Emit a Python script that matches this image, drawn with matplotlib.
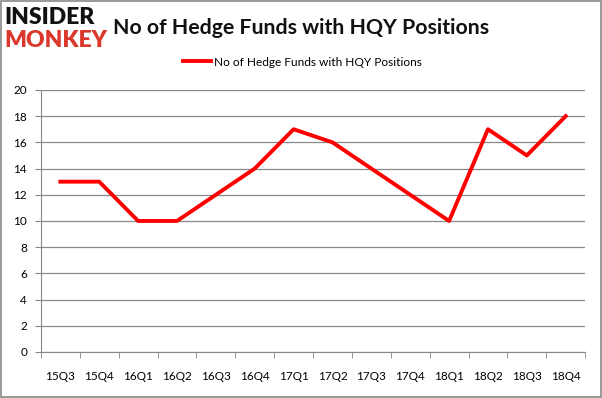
import matplotlib
matplotlib.use("Agg")
import matplotlib.pyplot as plt
from matplotlib.patches import Rectangle
import numpy as np

categories = ["15Q3", "15Q4", "16Q1", "16Q2", "16Q3", "16Q4", "17Q1", "17Q2",
              "17Q3", "17Q4", "18Q1", "18Q2", "18Q3", "18Q4"]
values = [13, 13, 10, 10, 12, 14, 17, 16, 14, 12, 10, 17, 15, 18]
yticks = [0, 2, 4, 6, 8, 10, 12, 14, 16, 18, 20]
series_name = "No of Hedge Funds with HQY Positions"
title = "No of Hedge Funds with HQY Positions"

plt.rcParams["font.family"] = ["Lato", "DejaVu Sans"]

fig = plt.figure(figsize=(6.02, 3.98), dpi=100)
fig.patches.append(Rectangle((0.002, 0.002), 0.996, 0.996, transform=fig.transFigure,
                             fill=False, edgecolor="#888888", linewidth=1.2))
ax = fig.add_axes([0.068, 0.1156, 0.904, 0.6584])
x = np.arange(len(categories))
ax.plot(x, values, color="#ff0000", linewidth=2.8, label=series_name, solid_joinstyle="round")
ax.set_xlim(-0.5, len(categories) - 0.5)
ax.set_ylim(0, 20)
ax.set_yticks(yticks)
ax.set_yticklabels([str(v) for v in yticks], fontsize=8.5)
ax.set_xticks(x)
ax.set_xticklabels(categories, fontsize=8.5)
ax.set_xticks(np.arange(-0.5, len(categories), 1), minor=True)
ax.tick_params(axis="x", which="major", length=0, pad=14)
ax.tick_params(axis="x", which="minor", length=4, color="#888888")
ax.tick_params(axis="y", length=4, color="#888888", pad=6)
ax.grid(axis="y", color="#888888", linewidth=0.9)
ax.set_axisbelow(True)
for s in ["top", "right"]:
    ax.spines[s].set_visible(False)
for s in ["left", "bottom"]:
    ax.spines[s].set_color("#888888")
ax.legend(loc="center", bbox_to_anchor=(0.48, 1.106), frameon=False, fontsize=8.6,
          handlelength=2.4, handletextpad=0.2)

fig.text(0.008, 0.955, "INSIDER", fontsize=16.5, fontweight="heavy", color="#111111",
         va="center", ha="left")
fig.text(0.008, 0.898, "MONKEY", fontsize=16.5, fontweight="heavy", color="#d9382a",
         va="center", ha="left")
fig.text(0.5, 0.93, title, fontsize=15.3, fontweight="bold", color="#111111",
         va="center", ha="center")
fig.savefig("out.png", dpi=100)
